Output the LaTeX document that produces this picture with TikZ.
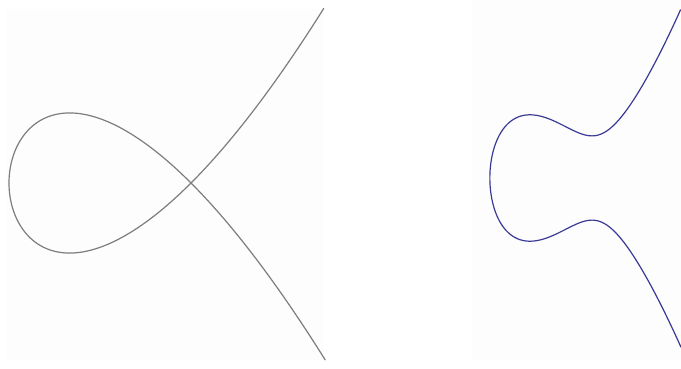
\documentclass[tikz,border=0pt]{standalone}
\definecolor{panelbg}{RGB}{253,253,253}
\definecolor{curvegray}{RGB}{125,125,125}
\definecolor{curveblue}{RGB}{58,58,150}
\tikzset{
  panel/.style={fill=panelbg, draw=none},
  curveline/.style={line width=1.2pt, line join=round, line cap=round}
}
\begin{document}
\begin{tikzpicture}[x=1pt,y=1pt]
  \useasboundingbox (0,0) rectangle (681,368);
  \fill[white] (0,0) rectangle (681,368);
  % panels
  \path[panel] (7,8) rectangle (323,359);
  \path[panel] (472,8) rectangle (681,368);
  % nodal cubic y^2 = x^2 (x+1)
  \draw[curveline, curvegray] plot[domain=-1.318:1.318, samples=240, smooth, variable=\t]
    ({191 + 182*(\t*\t - 1)}, {185 + 182*(\t*\t*\t - \t)});
  % smooth cubic y^2 = x^3 - x + 1
  \draw[curveline, curveblue] plot[domain=-1.8867:1.8867, samples=240, smooth, variable=\u]
    ({561 + 53.7*(-1.324718 + \u*\u)},
     {190 + 53.7*\u*sqrt((-1.324718 + \u*\u)*(-1.324718 + \u*\u) - 1.324718*(-1.324718 + \u*\u) + 0.754878)});
\end{tikzpicture}
\end{document}
